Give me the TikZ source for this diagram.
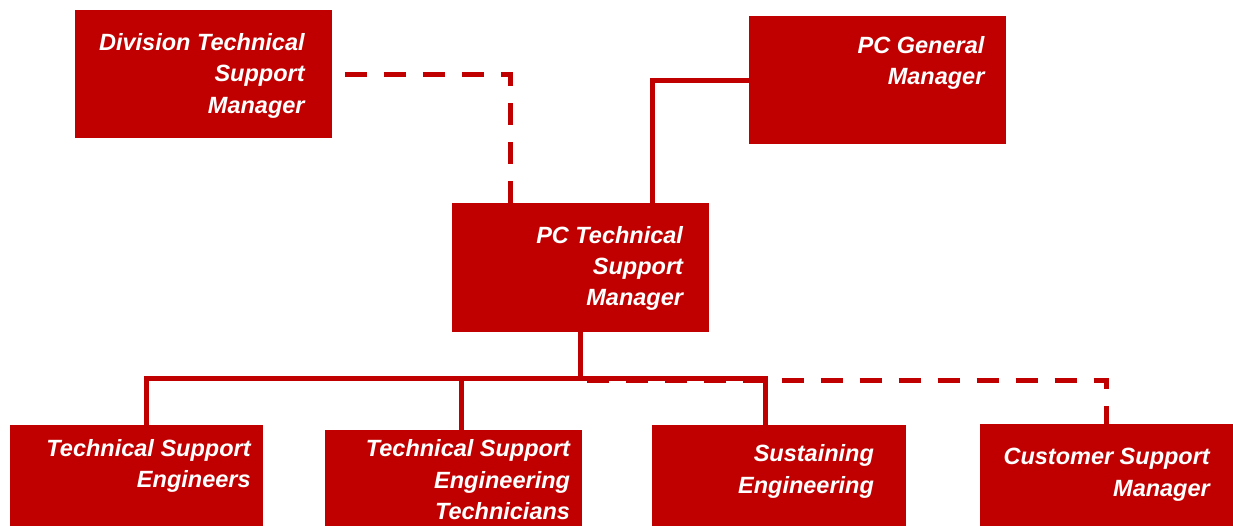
\documentclass[tikz,border=0pt]{standalone}
\usepackage{fontspec}
\setmainfont{Liberation Sans}
\usepackage{xcolor}
\usetikzlibrary{positioning}
\definecolor{orgred}{HTML}{C00000}

\begin{document}
\begin{tikzpicture}[x=1pt, y=-1pt,
        font=\bfseries\itshape\fontsize{23.5}{31.2}\selectfont,
        box/.style={rectangle, fill=orgred, inner sep=0pt, minimum width=257pt, minimum height=128pt},
        lbl/.style={anchor=north east, align=right, text=white, inner sep=0pt},
        link/.style={draw=orgred, line width=5pt},
        dlink/.style={link, dash pattern=on 22pt off 17pt}]
    \useasboundingbox (0,0) rectangle (1233,526);
         \node[box] (pctsm) at (580.5,267.5) {};
        \node[box] [above left = 65pt and 120pt of pctsm] (div) {};
        \node[box] [above right = 59pt and 40pt of pctsm] (pcgm) {};
        \node[box, minimum width=253pt] [below left = 93.5pt and 189pt of pctsm] (eng) {};
        \node[box, anchor=north west] (tech) at ([xshift=62pt, yshift=-5pt]eng.north east) {};
        \node[box, minimum width=254pt, anchor=north west] (sust) at ([xshift=70pt, yshift=5.5pt]tech.north east) {};
        \node[box, minimum width=254pt, anchor=north west] (csm) at ([xshift=73pt, yshift=1pt]sust.north east) {};

        \node[lbl] (divt) at ([xshift=-27pt, yshift=-23.5pt]div.north east) {Division Technical\\Support\\Manager};
        \node[lbl] (pcgmt) at ([xshift=-22pt, yshift=-20pt]pcgm.north east) {PC General\\Manager};
        \node[lbl] (pctsmt) at ([xshift=-26pt, yshift=-22.5pt]pctsm.north east) {PC Technical\\Support\\Manager};
        \node[lbl] (engt) at ([xshift=-12pt, yshift=-14pt]eng.north east) {Technical Support\\Engineers};
        \node[lbl] (techt) at ([xshift=-12pt, yshift=-9.5pt]tech.north east) {Technical Support\\Engineering\\Technicians};
        \node[lbl] (sustt) at ([xshift=-32.5pt, yshift=-20pt]sust.north east) {Sustaining\\Engineering};
        \node[lbl] (csmt) at ([xshift=-24pt, yshift=-24.5pt]csm.north east) {Customer Support\\Manager};

        \coordinate (bus) at ([yshift=-47pt]pctsm.south);
	\draw[dlink, dash phase=26pt] (div.east) -| ([xshift=-70pt]pctsm.north);
	\draw[link] (pcgm.west) -| ([xshift=71.5pt]pctsm.north);
	\draw[dlink, dash phase=33pt] ([yshift=-2pt]bus) -| (csm.north);
	\draw[link] (pctsm.south) -- (bus) -| ([xshift=10.5pt]eng.north);
	\draw[link] (bus) -| ([xshift=8pt]tech.north);
	\draw[link] (bus) -| ([xshift=-14pt]sust.north);
    \end{tikzpicture}
\end{document}
